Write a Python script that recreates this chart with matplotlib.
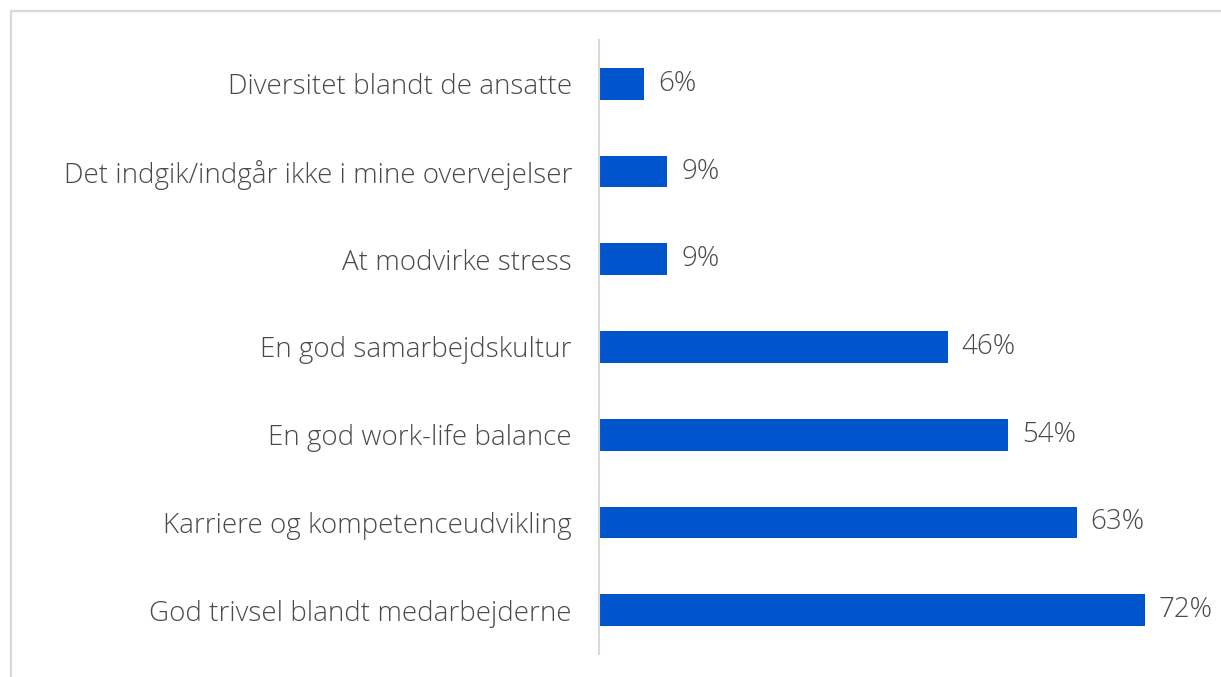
import matplotlib
matplotlib.use("Agg")
import matplotlib.pyplot as plt
from matplotlib.patches import Rectangle

categories = [
    "Diversitet blandt de ansatte",
    "Det indgik/indgår ikke i mine overvejelser",
    "At modvirke stress",
    "En god samarbejdskultur",
    "En god work-life balance",
    "Karriere og kompetenceudvikling",
    "God trivsel blandt medarbejderne",
]
values = [6, 9, 9, 46, 54, 63, 72]
value_labels = ["6%", "9%", "9%", "46%", "54%", "63%", "72%"]

W, H = 1221, 677
fig = plt.figure(figsize=(W / 100, H / 100), dpi=100)
fig.patch.set_facecolor("white")

# outer frame (top and left visible)
fig.patches.append(Rectangle((11 / W, -0.05), 1.2, 1 - 11 / H + 0.05,
                             transform=fig.transFigure, fill=False,
                             edgecolor="#d9d9d9", linewidth=1.6))

ax_left = 599 / W
ax_right = (599 + 80 * 7.583) / W
ax_top = 1 - 40 / H
ax_bottom = 1 - 654 / H
ax = fig.add_axes([ax_left, ax_bottom, ax_right - ax_left, ax_top - ax_bottom])

ypos = list(range(len(categories)))
ax.barh(ypos, values, height=0.36, color="#0055CC")
ax.set_xlim(0, 80)
ax.set_ylim(len(categories) - 0.5, -0.5)

text_color = "#4a4a4a"
font = "Open Sans"
fs = 20
for y, v, lab in zip(ypos, values, value_labels):
    ax.annotate(lab, (v, y), xytext=(14, 0), textcoords="offset pixels",
                va="center", ha="left", fontsize=fs, color=text_color,
                family=font, weight="light")

ax.set_yticks(ypos)
ax.set_yticklabels(categories, fontsize=fs, color=text_color, family=font,
                   weight="light")
ax.tick_params(axis="y", length=0, pad=19.5)
ax.set_xticks([])
for s in ["top", "right", "bottom"]:
    ax.spines[s].set_visible(False)
ax.spines["left"].set_color("#d9d9d9")
ax.spines["left"].set_linewidth(1.5)

fig.savefig("out.png", dpi=100, facecolor="white")
